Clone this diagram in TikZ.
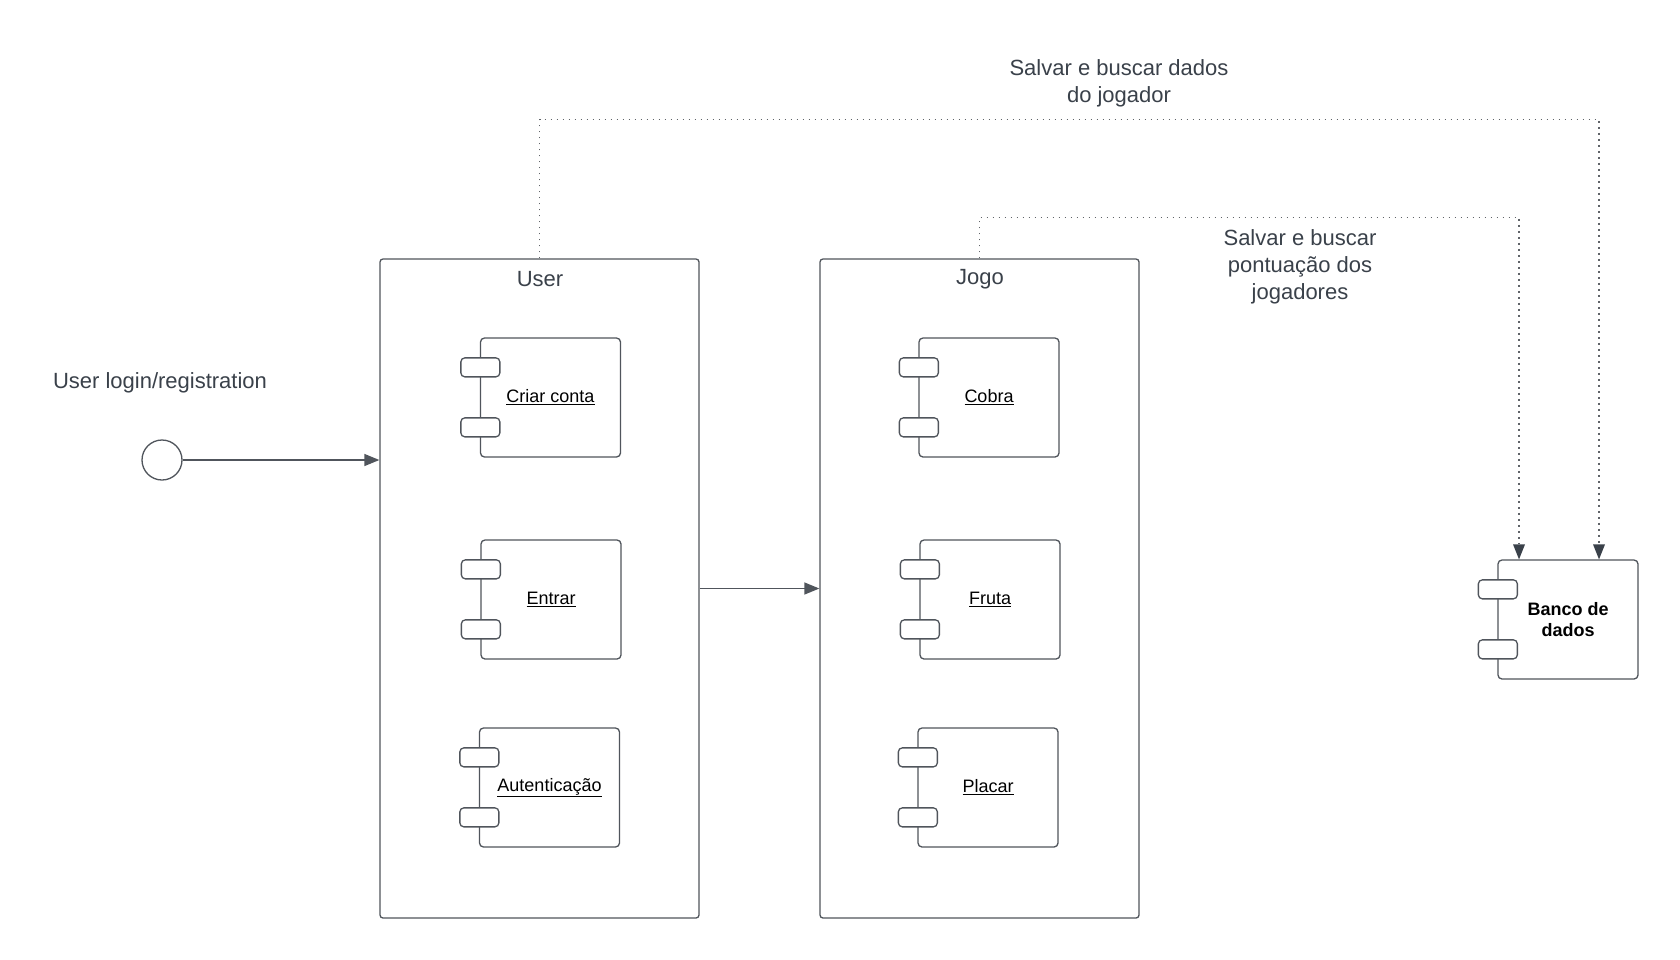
\documentclass[tikz,border=0pt]{standalone}
\usepackage{fontspec}
\setmainfont{Liberation Sans}
\usetikzlibrary{arrows.meta,calc}
\definecolor{ln}{HTML}{50555C}
\definecolor{tx}{HTML}{3A414A}
\definecolor{dt}{HTML}{5F6368}
\tikzset{
  container/.style={draw=ln, line width=1.3pt, rounded corners=3pt, minimum width=319pt, minimum height=659pt, inner sep=0pt, fill=white},
  comp/.style={draw=ln, line width=1.3pt, rounded corners=4pt, minimum width=140pt, minimum height=119pt, inner sep=0pt, fill=white, font=\fontsize{18}{21.5}\selectfont, text=black, align=center},
  port/.style={draw=ln, line width=1.3pt, rounded corners=4pt, minimum width=39pt, minimum height=19pt, inner sep=0pt, fill=white},
  title/.style={font=\fontsize{22}{27}\selectfont, text=tx, align=center, inner sep=0pt},
  conn/.style={draw=ln, line width=1.3pt, -{Triangle[length=15pt,width=12pt]}},
  dotconn/.style={draw=dt, line width=1.7pt, dash pattern=on 1.7pt off 4.3pt, -{Triangle[length=15pt,width=12pt,fill=tx,color=tx,line width=0pt]}},
}
\newcommand\compports[1]{%
  \node[port] (#1p1) at ($(#1.north west)+(0.5,30)$) {};
  \node[port] (#1p2) at ($(#1.north west)+(0.5,90)$) {};}
\begin{document}
\begin{tikzpicture}[x=1pt,y=-1pt]
\useasboundingbox[fill=white] (0,0) rectangle (1680,959);

% containers
\node[container] (user) at (539.5,588.5) {};
\node[container] (jogo) at (979.5,588.5) {};
\node[title] (usert) at (540,279) {User};
\node[title] (jogot) at (980,279.5) {Jogo};

% components
\node[comp] (cc) at (550.5,397.5) {\underline{Criar conta}};
\compports{cc}
\node[comp] (en) at (551,599.5) {\underline{Entrar}};
\compports{en}
\node[comp] (au) at (549.5,787.5) {\underline{Autenticação}};
\compports{au}
\node[comp] (co) at (989,397.5) {\underline{Cobra}};
\compports{co}
\node[comp] (fr) at (990,599.5) {\underline{Fruta}};
\compports{fr}
\node[comp] (pl) at (988,787.5) {\underline{Placar}};
\compports{pl}
\node[comp] (bd) at (1568,619.5) {\textbf{Banco de}\\\textbf{dados}};
\compports{bd}

% interface circle
\node[draw=ln, line width=1.3pt, circle, minimum size=40pt, inner sep=0pt] (circ) at (162,460) {};
\node[title] (login) at (160,383) {User login/registration};

% labels
\node[title] (lab1) at (1119,83) {Salvar e buscar dados\\do jogador};
\node[title] (lab2) at (1300,267) {Salvar e buscar\\pontuação dos\\jogadores};

% connectors
\draw[conn] (circ.east) -- (circ -| user.west);
\draw[conn] (user.east) -- (jogo.west);

\coordinate (bdA) at ($(bd.north)+(31,0)$);
\coordinate (bdB) at ($(bd.north)+(-49,0)$);
\coordinate (top1) at ($(user.north)+(0,-139)$);
\coordinate (top2) at ($(jogo.north)+(0,-41)$);
\draw[dotconn] (user.north) -- (top1) -| (bdA);
\draw[dotconn] (jogo.north) -- (top2) -| (bdB);
\end{tikzpicture}
\end{document}
